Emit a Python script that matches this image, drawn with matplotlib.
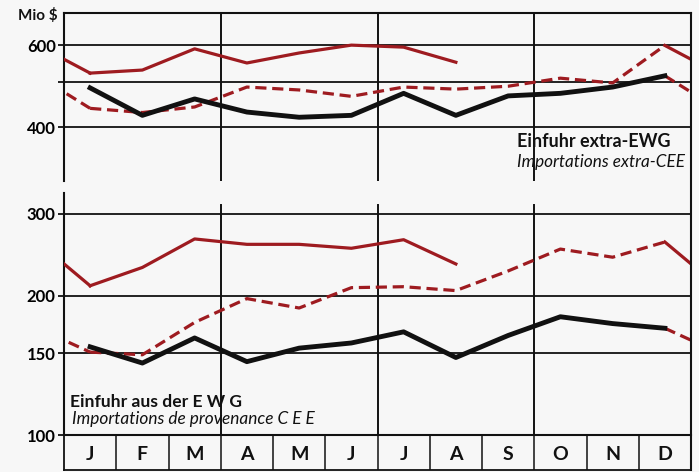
import matplotlib
matplotlib.use("Agg")
import matplotlib.pyplot as plt
from matplotlib.lines import Line2D
from matplotlib.ticker import NullLocator, NullFormatter

# monthly imports, Mio $ (three successive years: black, dashed red, solid red)
months = ["J", "F", "M", "A", "M", "J", "J", "A", "S", "O", "N", "D"]

extra_y1 = [486, 424, 460, 431, 420, 424, 473, 424, 467, 473, 488, 516]
extra_y2 = [439, 430, 442, 488, 481, 466, 488, 483, 490, 510, 498, 600]
extra_y3 = [523, 531, 590, 550, 578, 601, 595, 552]

intra_y1 = [155, 143, 162, 144, 154, 158, 167, 147, 164, 180, 174, 170]
intra_y2 = [151, 149, 175, 197, 188, 208, 209, 205, 226, 252, 242, 261]
intra_y3 = [210, 230, 265, 258, 258, 253, 264, 234]

extra_ticks = [400, 500, 600]
extra_labels = ["400", "", "600"]
intra_ticks = [100, 150, 200, 300]
intra_labels = ["100", "150", "200", "300"]

RED = "#9e1b20"
INK = "#111111"
BG = "#f7f7f7"

plt.rcParams["font.family"] = ["Lato", "DejaVu Sans"]

W, H = 699, 472
fig = plt.figure(figsize=(W / 100, H / 100), dpi=100, facecolor=BG)


def frame(top, bottom):
    # pixel rows -> figure rect
    return [64 / W, 1 - bottom / H, (691 - 64) / W, (bottom - top) / H]


ax_top = fig.add_axes(frame(13, 181))
ax_bot = fig.add_axes(frame(193, 435))
ax_mon = fig.add_axes(frame(435, 470))

black = dict(color=INK, lw=3.5, zorder=5)
dashed = dict(color=RED, lw=2.3, dashes=(3.5, 1.8), zorder=4)
solid = dict(color=RED, lw=2.3, zorder=3)


def draw_year(ax, values, style, prev=None):
    x = [i + 0.5 for i in range(len(values))]
    ax.plot(x, values, **style)
    if prev is not None:
        # Dec -> Jan link, wraps round the edges of the year
        ax.plot([-0.5, 0.5], [prev[-1], values[0]], **style)
        ax.plot([11.5, 12.5], [prev[-1], values[0]], **style)


def setup(ax, ylim, ticks, labels):
    ax.set_facecolor("none")
    ax.set_yscale("log")
    ax.set_xlim(0, 12)
    ax.set_ylim(*ylim)
    ax.set_xticks([])
    ax.set_yticks(ticks)
    ax.set_yticklabels(labels, fontweight="bold", fontsize=12)
    ax.yaxis.set_minor_locator(NullLocator())
    ax.yaxis.set_minor_formatter(NullFormatter())
    ax.tick_params(axis="y", length=4, width=1.3, pad=2, color=INK)
    for v in ticks:
        ax.axhline(v, color=INK, lw=1.3, zorder=1)
    ax.spines["right"].set_visible(False)
    for s in ax.spines.values():
        s.set_linewidth(1.5)
        s.set_color(INK)


setup(ax_top, (306, 705), extra_ticks, extra_labels)
ax_top.spines["bottom"].set_visible(False)
for m in (3, 6, 9):
    ax_top.axvline(m, color=INK, lw=1.4, zorder=1)

setup(ax_bot, (100, 333), intra_ticks, intra_labels)
ax_bot.spines["top"].set_visible(False)
for m in (3, 6, 9):
    ax_bot.axvline(m, ymax=0.95, color=INK, lw=1.4, zorder=1)

draw_year(ax_top, extra_y1, black)
draw_year(ax_top, extra_y2, dashed, prev=extra_y1)
draw_year(ax_top, extra_y3, solid, prev=extra_y2)

draw_year(ax_bot, intra_y1, black)
draw_year(ax_bot, intra_y2, dashed, prev=intra_y1)
draw_year(ax_bot, intra_y3, solid, prev=intra_y2)

ax_top.text(8.67, 0.235, "Einfuhr extra-EWG", transform=ax_top.get_xaxis_transform(),
            fontsize=13, fontweight="bold", color=INK, va="center")
ax_top.text(8.67, 0.115, "Importations extra-CEE", transform=ax_top.get_xaxis_transform(),
            fontsize=12.3, style="italic", color=INK, va="center")

ax_bot.text(0.11, 0.136, "Einfuhr aus der E W G", transform=ax_bot.get_xaxis_transform(),
            fontsize=12.6, fontweight="bold", color=INK, va="center")
ax_bot.text(0.15, 0.066, "Importations de provenance C E E", transform=ax_bot.get_xaxis_transform(),
            fontsize=12.4, style="italic", color=INK, va="center")

# month strip
ax_mon.set_facecolor("none")
ax_mon.set_xlim(0, 12)
ax_mon.set_ylim(0, 1)
ax_mon.set_xticks([])
ax_mon.set_yticks([])
ax_mon.spines["right"].set_visible(False)
for s in ax_mon.spines.values():
    s.set_linewidth(1.3)
    s.set_color(INK)
for i in range(1, 12):
    ax_mon.axvline(i, color=INK, lw=1.1)
for i, m in enumerate(months):
    ax_mon.text(i + 0.5, 0.45, m, ha="center", va="center",
                fontsize=14, fontweight="bold", color=INK)

fig.text(58 / W, 1 - 15 / H, "Mio $", ha="right", va="center",
         fontsize=11, fontweight="bold", color=INK)

# right-hand border runs through both panels and the month strip
fig.add_artist(Line2D([691 / W, 691 / W], [1 - 470 / H, 1 - 13 / H], color=INK, lw=1.5))

fig.savefig("out.png", dpi=100, facecolor=BG)
